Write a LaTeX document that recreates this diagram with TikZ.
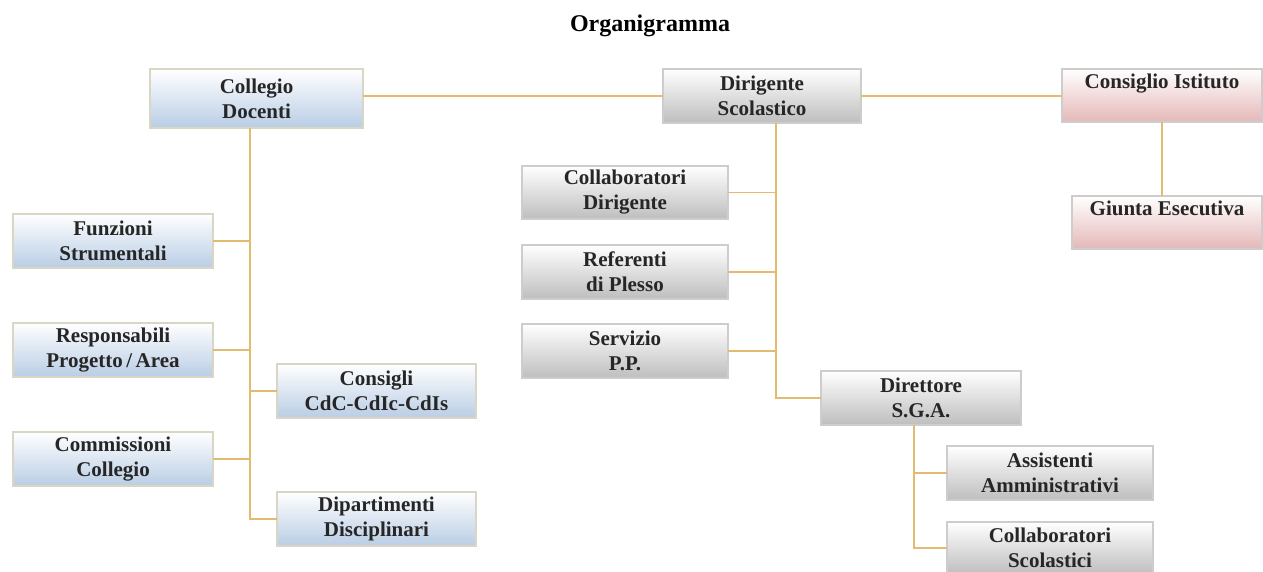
\documentclass[tikz,border=0pt]{standalone}
\usepackage{fontspec}
\setmainfont{Liberation Serif}
\definecolor{bluebot}{RGB}{185,205,229}
\definecolor{graybot}{RGB}{190,190,190}
\definecolor{pinkbot}{RGB}{229,183,183}
\definecolor{beigeedge}{RGB}{218,214,196}
\definecolor{grayedge}{RGB}{205,205,205}
\definecolor{connc}{RGB}{226,187,112}
\begin{document}
\begin{tikzpicture}[x=1pt,y=-1pt,
  box/.style={line width=1.6pt, inner sep=0pt, outer sep=0pt, align=center,
    font=\fontsize{21}{25}\selectfont\bfseries, text=black!85},
  bluebox/.style={box, draw=beigeedge, top color=white, bottom color=bluebot},
  graybox/.style={box, draw=grayedge, top color=white, bottom color=graybot},
  pinkbox/.style={box, draw=grayedge, top color=white, bottom color=pinkbot},
  conn/.style={draw=connc, line width=1.3pt}]
\useasboundingbox (0,0) rectangle (1263,572);
\node[font=\fontsize{24}{26}\selectfont\bfseries] (title) at (650,26) {Organigramma};
% top row
\node[bluebox, minimum width=213, minimum height=59] (coll) at (256.5,98.5) {Collegio\\Docenti};
\node[graybox, minimum width=198, minimum height=54] (dir) at (762,96) {Dirigente\\Scolastico};
\node[pinkbox, minimum width=200, minimum height=53] (cons) at (1162,95.5) {Consiglio Istituto\\[-4pt]\strut};
\node[pinkbox, minimum width=190, minimum height=53] (giunta) at (1167,222.5) {Giunta Esecutiva\\[-4pt]\strut};
% left column
\node[bluebox, minimum width=200, minimum height=54] (fun) at (113,241) {Funzioni\\Strumentali};
\node[bluebox, minimum width=200, minimum height=54] (resp) at (113,350) {Responsabili\\Progetto\,/\,Area};
\node[bluebox, minimum width=200, minimum height=54] (comm) at (113,459) {Commissioni\\Collegio};
\node[bluebox, minimum width=199, minimum height=54] (cdc) at (376.5,391) {Consigli\\CdC-CdIc-CdIs};
\node[bluebox, minimum width=199, minimum height=54] (dip) at (376.5,519) {Dipartimenti\\Disciplinari};
% middle column
\node[graybox, minimum width=206, minimum height=53] (cold) at (625,192.5) {Collaboratori\\Dirigente};
\node[graybox, minimum width=206, minimum height=54] (ref) at (625,272) {Referenti\\di Plesso};
\node[graybox, minimum width=206, minimum height=54] (serv) at (625,351) {Servizio\\P.P.};
\node[graybox, minimum width=200, minimum height=54] (dsga) at (921,398) {Direttore\\S.G.A.};
\node[graybox, minimum width=206, minimum height=54] (ass) at (1050,473) {Assistenti\\Amministrativi};
\node[graybox, minimum width=206, minimum height=52] (cols) at (1050,548) {Collaboratori\\Scolastici};
% trunk coordinates
\coordinate (ct) at (250,128);
\coordinate (dt) at (776,123);
\coordinate (st) at (914,425);
% connectors
\draw[conn] (coll.east |- dir.west) -- (dir.west);
\draw[conn] (dir.east) -- (dir.east -| cons.west);
\draw[conn] (cons.south) -- (giunta.north -| cons.south);
\draw[conn] (ct) |- (dip.west);
\draw[conn] (fun.east) -- (fun.east -| ct);
\draw[conn] (resp.east) -- (resp.east -| ct);
\draw[conn] (comm.east) -- (comm.east -| ct);
\draw[conn] (cdc.west) -- (cdc.west -| ct);
\draw[conn] (dt) |- (dsga.west);
\draw[conn] (cold.east) -- (cold.east -| dt);
\draw[conn] (ref.east) -- (ref.east -| dt);
\draw[conn] (serv.east) -- (serv.east -| dt);
\draw[conn] (st) |- (cols.west);
\draw[conn] (ass.west) -- (ass.west -| st);
\end{tikzpicture}
\end{document}
